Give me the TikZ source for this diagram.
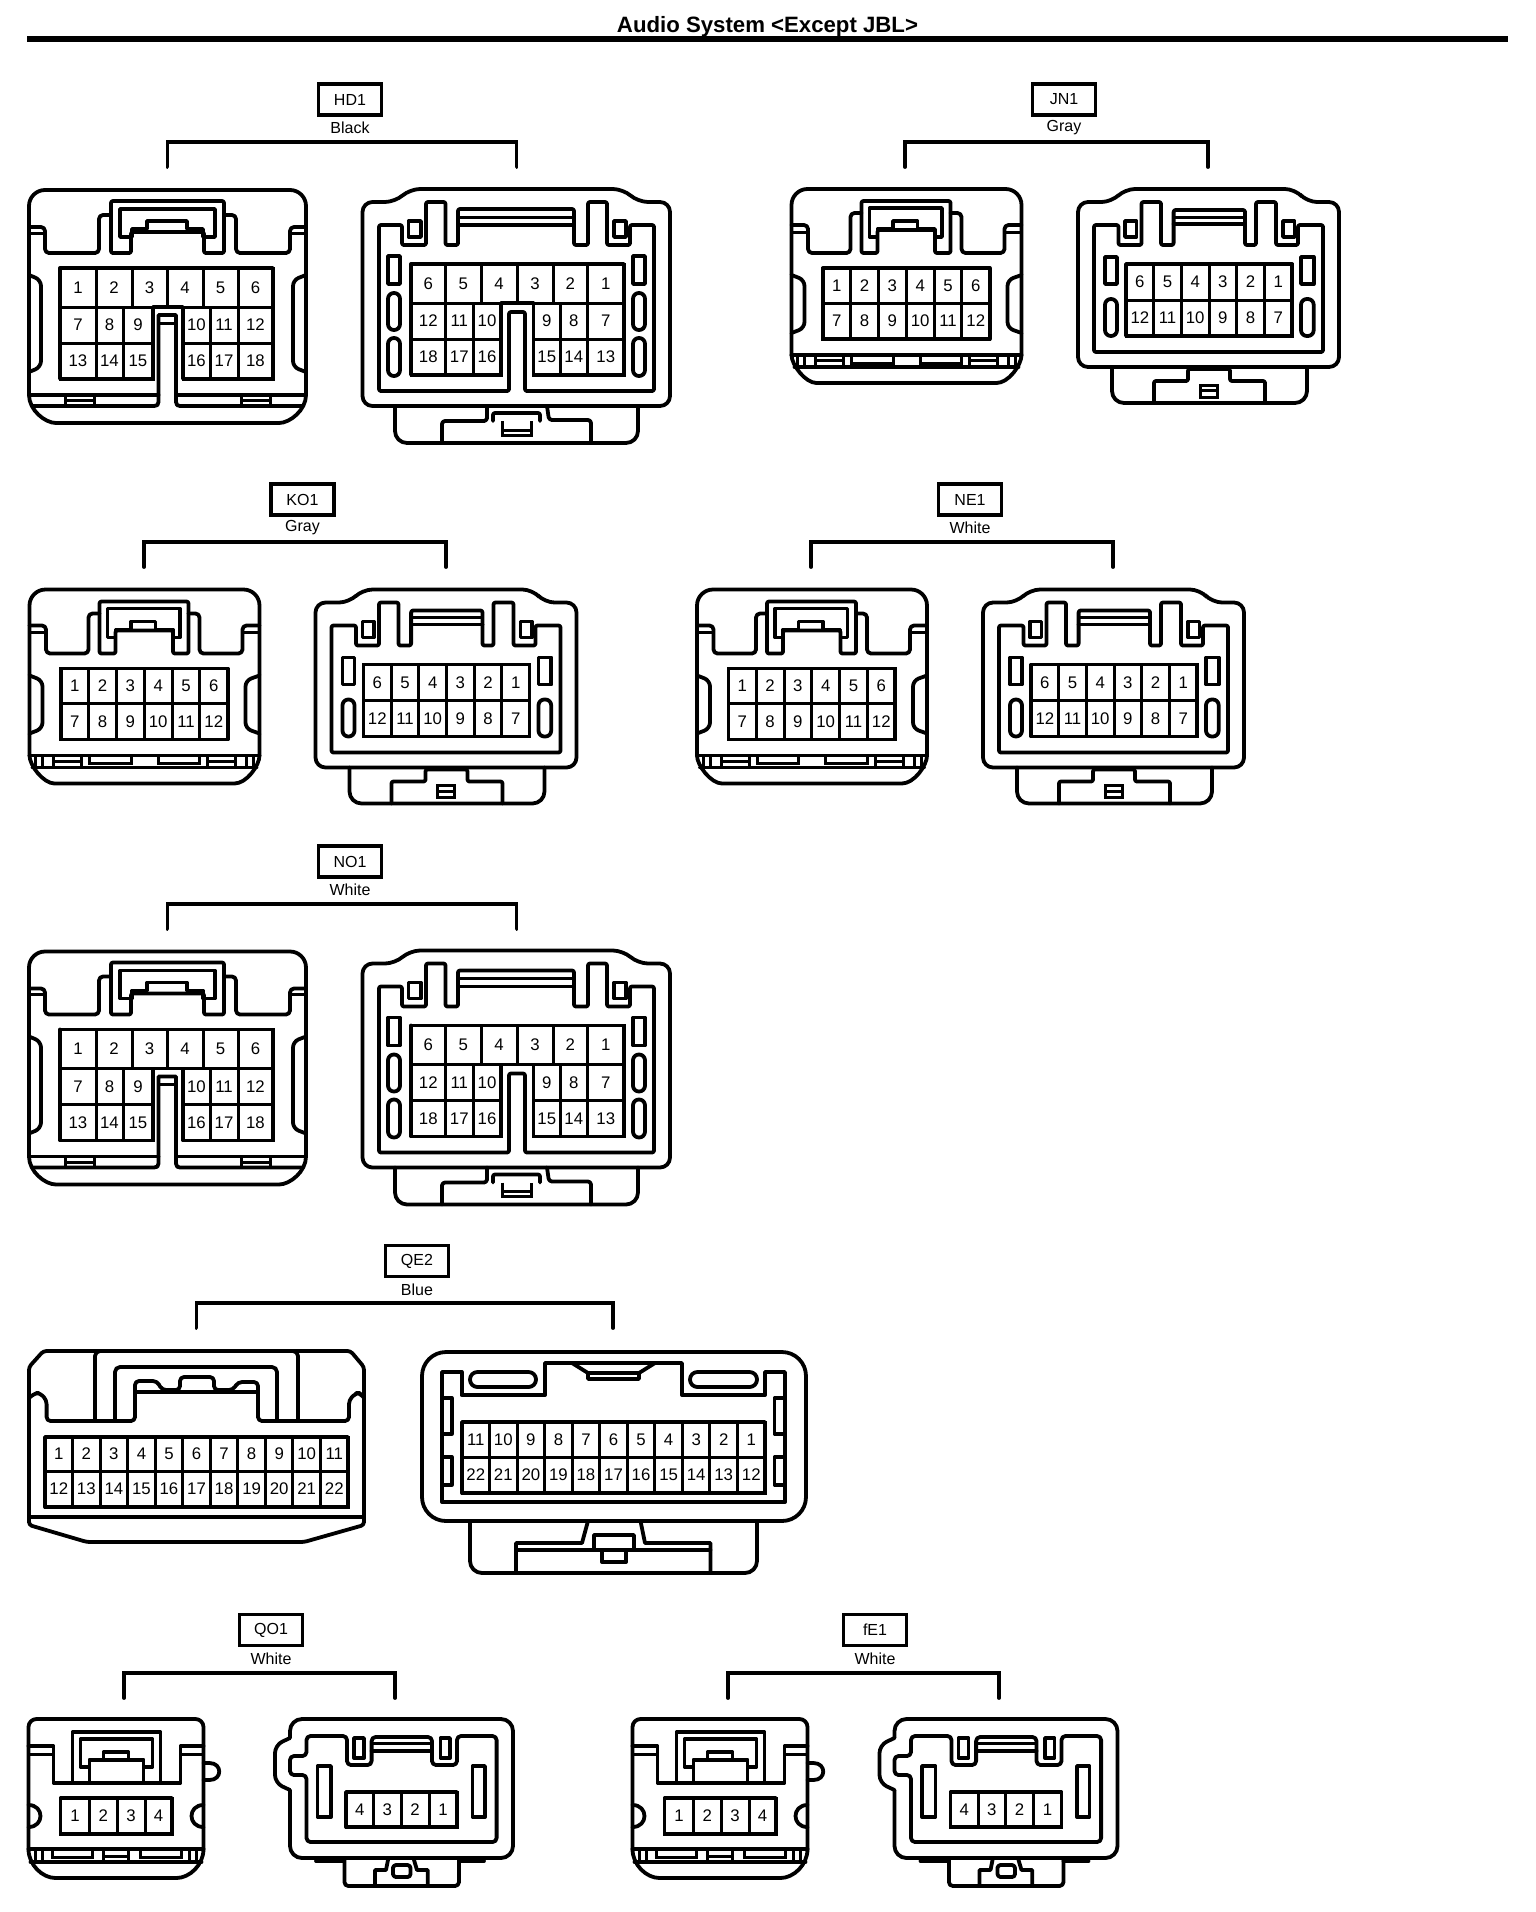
\documentclass[tikz,border=0pt]{standalone}
\usepackage{fontspec}
\setmainfont{Liberation Sans}
\tikzset{
 ln/.style={line width=1.9pt,line join=round,line cap=round},
 ln2/.style={line width=1.5pt,line join=miter},
 gridln/.style={line width=1.5pt},
 pinlbl/.style={inner sep=0pt,font=\fontsize{8.4}{10}\selectfont},
 tagbox/.style={draw,line width=1.9pt,minimum width=31.5pt,minimum height=15.5pt,inner sep=0pt,font=\fontsize{8}{10}\selectfont},
 collbl/.style={inner sep=0pt,font=\fontsize{8}{10}\selectfont},
 brk/.style={line width=1.9pt,line join=miter,line cap=round},
}
% one labelled cell row: y1,y2,{x1/x2/label,...}
\newcommand\cellsx[3]{\foreach \a/\b/\t in {#3}{\draw[gridln] (\a,#1) rectangle (\b,#2);
 \node[pinlbl] (\pfx-\t) at ({(\a+\b)/2},{(#1+#2)/2}) {\t};}}
% even row: y1,y2,x0,dx,{labels}
\newcommand\evenrow[5]{\foreach \t [count=\i] in {#5}{\pgfmathsetmacro\a{#3+(\i-1)*#4}\pgfmathsetmacro\b{\a+#4}
 \draw[gridln] (\a,#1) rectangle (\b,#2);
 \node[pinlbl] (\pfx-\t) at ({(\a+\b)/2},{(#1+#2)/2}) {\t};}}
% label group: id,text,colour,xc,ybox,xl,xr,ytop
\newcommand\taggrp[8]{
 \node[tagbox] (#1) at (#4,#5) {#2};
 \node[collbl] (#1c) at (#4,#5+28.5) {#3};
 \coordinate (#1l) at (#6,#8+25);
 \coordinate (#1r) at (#7,#8+25);
 \draw[brk] (#1l) -- ++(0,-25) -| (#1r);
}
% 18-pin plug
\newcommand\plugA[3]{\begin{scope}[shift={(#2,#3)}]\def\pfx{#1}
 \draw[ln,rounded corners=8pt] (29,395) -- (29,190) -- (306,190) -- (306,395);
 \draw[ln] (29,395) .. controls (29,410) and (45,423) .. (56,423) -- (279,423) .. controls (290,423) and (306,410) .. (306,395);
 \draw[ln,rounded corners=2pt] (29,227) -- (45,227) -- (45,253) -- (99,253) -- (99,215) -- (111,215);
 \draw[ln,rounded corners=2pt] (306,227) -- (290,227) -- (290,253) -- (236,253) -- (236,215) -- (224,215);
 \draw[ln2] (29,233) -- (45,233) (290,233) -- (306,233);
 \draw[ln,rounded corners=1pt] (131,232) -- (131,253) -- (111,253) -- (111,201) -- (224,201) -- (224,253) -- (204,253) -- (204,232) -- cycle;
 \draw[ln] (120,237) -- (120,209) -- (215,209) -- (215,237) -- (203,237) -- (203,229) -- (187,229) -- (187,221) -- (147,221) -- (147,229) -- (132,229) -- (132,237) -- cycle;
 \draw[ln,rounded corners=3pt] (29,275) -- (41,280) -- (41,367) -- (29,372);
 \draw[ln,rounded corners=3pt] (306,275) -- (293,280) -- (293,367) -- (306,372);
 \draw[ln] (29,395) -- (158.5,395) (176,395) -- (306,395);
 \draw[ln] (33,406) -- (154,406) .. controls (157,406) and (158.5,405) .. (158.5,402) -- (158.5,315) -- (176,315) -- (176,402) .. controls (176,405) and (177.5,406) .. (180,406) -- (302,406);
 \draw[ln2] (158.5,323) -- (176,323);
 \draw[ln2] (65,395) -- (65,406) (94,395) -- (94,406) (65,400.5) -- (94,400.5);
 \draw[ln2] (241,395) -- (241,406) (270,395) -- (270,406) (241,400.5) -- (270,400.5);
 \cellsx{268}{307}{60/96/1,96/132/2,132/167/3,167/203/4,203/238/5,238/273/6}
 \cellsx{307}{343}{60/96/7,96/123/8,123/153/9,183/210/10,210/238/11,238/273/12}
 \cellsx{343}{379}{60/96/13,96/123/14,123/153/15,183/210/16,210/238/17,238/273/18}
 \draw[ln] (60,268) -| (273,379) -| (183,307) -| (153,379) -| (60,268);
\end{scope}}
% 18-pin socket
\newcommand\plugB[3]{\begin{scope}[shift={(#2,#3)}]\def\pfx{#1}
 \draw[ln,rounded corners=5pt] (410,189) -- (623,189) -- (638,202) -- (670,202) -- (670,406) -- (362.5,406) -- (362.5,202) -- (395,202) -- cycle;
 \draw[ln,rounded corners=6pt] (395,406) -- (395,443) -- (638,443) -- (638,406);
 \draw[ln,rounded corners=1.5pt] (442,443) -- (442,421) -- (487,421) -- (487,406);
 \draw[ln,rounded corners=1.5pt] (591,443) -- (591,420) -- (549,420) -- (547,406);
 \draw[ln,rounded corners=1pt] (493,421) -- (493,413) -- (540,413) -- (540,421);
 \draw[ln2] (502,421) -- (502,435) -- (531,435) -- (531,421) (502,430) -- (531,430);
 \draw[ln,rounded corners=1pt] (379,225) -- (402,225) -- (402,245) -- (426,245) -- (426,202) -- (445.5,202) -- (445.5,245) -- (458,245) -- (458,209) -- (574,209) -- (574,245) -- (588,245) -- (588,202) -- (607,202) -- (607,245) -- (630,245) -- (630,225) -- (654,225) -- (654,391) -- (525,391) -- (525,312) -- (509,312) -- (509,391) -- (379,391) -- cycle;
 \draw[ln2] (458,217) -- (574,217);
 \draw[ln] (458,225) -- (574,225);
 \draw[ln] (408.5,221) rectangle (421,237) (614,221) rectangle (626,237);
 \draw[ln] (388,256) rectangle (400,284) (633,256) rectangle (645,284);
 \draw[ln,rounded corners=2.9pt] (388,293) rectangle (400,330) (388,338) rectangle (400,376) (633,293) rectangle (645,330) (633,338) rectangle (645,376);
 \cellsx{264}{303}{411/445.5/6,445.5/481/5,481/517/4,517/553/3,553/587.5/2,587.5/624/1}
 \cellsx{303}{339}{411/445.5/12,445.5/473/11,473/501/10,533.5/560/9,560/587.5/8,587.5/624/7}
 \cellsx{339}{375}{411/445.5/18,445.5/473/17,473/501/16,533.5/560/15,560/587.5/14,587.5/624/13}
 \draw[ln] (411,264) -| (624,375) -| (533.5,303) -| (501,375) -| (411,264);
\end{scope}}
% 12-pin plug
\newcommand\plugC[3]{\begin{scope}[shift={(#2,#3)}]\def\pfx{#1}
 \draw[ln,rounded corners=8pt] (791,355) -- (791,189) -- (1021,189) -- (1021,355);
 \draw[ln] (791,355) .. controls (791,365) and (805,383) .. (816,383) -- (996,383) .. controls (1008,383) and (1021,365) .. (1021,355);
 \draw[ln,rounded corners=2pt] (791,225) -- (807.5,225) -- (807.5,253) -- (850,253) -- (850,213) -- (861,213);
 \draw[ln,rounded corners=2pt] (1021,225) -- (1004,225) -- (1004,253) -- (961,253) -- (961,213) -- (950,213);
 \draw[ln2] (791,232) -- (807.5,232) (1004,232) -- (1021,232);
 \draw[ln,rounded corners=1pt] (877,230) -- (877,253) -- (861,253) -- (861,201) -- (950,201) -- (950,253) -- (934.5,253) -- (934.5,230) -- cycle;
 \draw[ln] (869,237) -- (869,208) -- (941.5,208) -- (941.5,237) -- (934.5,237) -- (934.5,229) -- (917,229) -- (917,221) -- (892.5,221) -- (892.5,229) -- (877,229) -- (877,237) -- cycle;
 \draw[ln,rounded corners=3pt] (791,275) -- (804,280) -- (804,328) -- (791,333);
 \draw[ln,rounded corners=3pt] (1021,275) -- (1007,280) -- (1007,328) -- (1021,333);
 \draw[ln] (791,355) -- (1021,355) (794,367) -- (1018,367);
 \draw[ln2] (797,355) -- (797,367) (804,355) -- (804,367) (815,355) -- (815,367) (843,355) -- (843,367) (815,360.5) -- (843,360.5);
 \draw[ln2] (1015,355) -- (1015,367) (1008,355) -- (1008,367) (997,355) -- (997,367) (969,355) -- (969,367) (969,360.5) -- (997,360.5);
 \draw[ln2] (851,355) -- (851,363) -- (892.5,363) -- (892.5,355) (919.5,355) -- (919.5,363) -- (961,363) -- (961,355);
 \evenrow{268}{303}{822.4}{27.8}{1,2,3,4,5,6}
 \evenrow{303}{339}{822.4}{27.8}{7,8,9,10,11,12}
 \draw[ln] (822.4,268) rectangle (989.2,339);
\end{scope}}
% 12-pin socket
\newcommand\plugD[3]{\begin{scope}[shift={(#2,#3)}]\def\pfx{#1}
 \draw[ln,rounded corners=5pt] (1124,189) -- (1294,189) -- (1306,202) -- (1338,202) -- (1338,367) -- (1077,367) -- (1077,202) -- (1110.6,202) -- cycle;
 \draw[ln,rounded corners=6pt] (1111,367) -- (1111,403) -- (1306,403) -- (1306,367);
 \draw[ln,rounded corners=1pt] (1153,403) -- (1153,381) -- (1187,381) -- (1187,369) -- (1229,369) -- (1229,381) -- (1264,381) -- (1264,403);
 \draw[ln2] (1199,385) -- (1199,397) -- (1216,397) -- (1216,385) -- cycle (1199,390.5) -- (1216,390.5);
 \draw[ln,rounded corners=1pt] (1093,225) -- (1117.5,225) -- (1117.5,245) -- (1140.5,245) -- (1140.5,202) -- (1160,202) -- (1160,245) -- (1172.6,245) -- (1172.6,210) -- (1244,210) -- (1244,245) -- (1255,245) -- (1255,202) -- (1275,202) -- (1275,245) -- (1297,245) -- (1297,225) -- (1322,225) -- (1322,352) -- (1093,352) -- cycle;
 \draw[ln2] (1172.6,217) -- (1244,217);
 \draw[ln] (1172.6,224) -- (1244,224);
 \draw[ln] (1124,221) rectangle (1135.5,237) (1282,221) rectangle (1293.5,237);
 \draw[ln] (1104,257) rectangle (1116,284) (1300,257) rectangle (1312.7,284);
 \draw[ln,rounded corners=2.9pt] (1104,299) rectangle (1116,336) (1300,299) rectangle (1312.7,336);
 \evenrow{264}{300}{1125}{27.67}{6,5,4,3,2,1}
 \evenrow{300}{336}{1125}{27.67}{12,11,10,9,8,7}
 \draw[ln] (1125,264) rectangle (1291,336);
\end{scope}}
% 22-pin plug
\newcommand\plugE[3]{\begin{scope}[shift={(#2,#3)}]\def\pfx{#1}
 \draw[ln,rounded corners=1.5pt] (43.4,1351) -- (350.5,1351) -- (364,1367) -- (364,1525) -- (304,1542) -- (87,1542) -- (29,1525) -- (29,1367) -- cycle;
 \draw[ln] (29,1517) -- (364,1517);
 \draw[ln,rounded corners=2pt] (29,1398) -- (35,1393) -- (40,1393) -- (46.6,1400) -- (46.6,1421) -- (135,1421) -- (135,1381) -- (157,1381) -- (162,1390) -- (180,1390) -- (180,1377) -- (214,1377) -- (214,1390) -- (233,1390) -- (238,1382) -- (258,1382) -- (258,1421) -- (349,1421) -- (349,1400) -- (356,1393) -- (360,1393) -- (364,1398);
 \draw[ln] (135,1392) -- (258,1392);
 \draw[ln,rounded corners=2.5pt] (115,1421) -- (115,1367) -- (277,1367) -- (277,1421);
 \draw[ln,rounded corners=2.5pt] (95,1421) -- (95,1351) -- (298,1351) -- (298,1421);
 \evenrow{1437}{1471}{45}{27.55}{1,2,3,4,5,6,7,8,9,10,11}
 \evenrow{1471}{1507}{45}{27.55}{12,13,14,15,16,17,18,19,20,21,22}
 \draw[ln] (45,1437) rectangle (348,1507);
\end{scope}}
% 22-pin socket
\newcommand\plugF[3]{\begin{scope}[shift={(#2,#3)}]\def\pfx{#1}
 \draw[ln,rounded corners=12pt] (422,1352) rectangle (806,1521);
 \draw[ln,rounded corners=6pt] (470,1521) -- (470,1573) -- (757,1573) -- (757,1521);
 \draw[ln] (442,1372) -- (461.6,1372) -- (461.6,1395) -- (545,1395) -- (545,1363) -- (682,1363) -- (682,1395) -- (765,1395) -- (765,1372) -- (785,1372) -- (785,1502) -- (442,1502) -- cycle;
 \draw[ln,rounded corners=3.7pt] (470,1372) rectangle (536,1387) (690,1372) rectangle (757,1387);
 \draw[ln] (572,1363) -- (588,1373) -- (639,1373) -- (655,1363) (588,1373) -- (588,1379) -- (639,1379) -- (639,1373);
 \draw[ln] (442,1398) rectangle (451.6,1434) (442,1457) rectangle (451.6,1485) (774.5,1398) rectangle (785,1434) (774.5,1457) rectangle (785,1485);
 \evenrow{1422}{1457}{462}{27.55}{11,10,9,8,7,6,5,4,3,2,1}
 \evenrow{1457}{1493}{462}{27.55}{22,21,20,19,18,17,16,15,14,13,12}
 \draw[ln] (462,1422) rectangle (765,1493);
 \draw[ln] (588,1521) -- (582,1543) -- (516,1543) -- (516,1573) (640.5,1521) -- (645,1543) -- (710.4,1543) -- (710.4,1573);
 \draw[ln] (516,1550) -- (710.4,1550);
 \draw[ln] (594,1550) -- (594,1535) -- (634,1535) -- (634,1550) (602,1550) -- (602,1562) -- (626,1562) -- (626,1550);
\end{scope}}
% 4-pin plug
\newcommand\plugG[3]{\begin{scope}[shift={(#2,#3)}]\def\pfx{#1}
 \draw[ln,rounded corners=4pt] (28,1849) -- (28,1719) -- (203,1719) -- (203,1849);
 \draw[ln] (28,1849) .. controls (28,1865) and (42,1878) .. (55,1878) -- (176,1878) .. controls (189,1878) and (203,1865) .. (203,1849);
 \draw[ln] (28,1746) -- (53,1746) -- (53,1783) -- (180,1783) -- (180,1746) -- (203,1746);
 \draw[ln2] (28,1754) -- (53,1754) (180,1754) -- (203,1754);
 \draw[ln] (72,1783) -- (72,1732) -- (160,1732) -- (160,1783) (89,1783) -- (89,1760) -- (143,1760) -- (143,1783);
 \draw[ln] (80,1767) -- (80,1739) -- (152,1739) -- (152,1767) -- (143,1767) -- (143,1760) -- (128,1760) -- (128,1752) -- (103,1752) -- (103,1760) -- (89,1760) -- (89,1767) -- cycle;
 \draw[ln] (203,1763) -- (209,1763) .. controls (222,1763) and (222,1780) .. (209,1780) -- (203,1780);
 \draw[ln] (28,1805) .. controls (44,1805) and (44,1827) .. (28,1827) (203,1805) .. controls (187,1805) and (187,1827) .. (203,1827);
 \draw[ln] (28,1849) -- (203,1849) (30,1862) -- (201,1862);
 \draw[ln2] (35,1849) -- (35,1862) (42,1849) -- (42,1862) (103,1849) -- (103,1862) (128,1849) -- (128,1862) (103,1856) -- (128,1856) (189,1849) -- (189,1862) (196,1849) -- (196,1862);
 \draw[ln2] (52,1849) -- (52,1857) -- (92,1857) -- (92,1849) (139.5,1849) -- (139.5,1857) -- (181,1857) -- (181,1849);
 \cellsx{1798}{1834}{60/89/1,89/116.5/2,116.5/144.5/3,144.5/171.5/4}
 \draw[ln] (60,1798) rectangle (171.5,1834);
\end{scope}}
% 4-pin socket
\newcommand\plugH[3]{\begin{scope}[shift={(#2,#3)}]\def\pfx{#1}
 \draw[ln,rounded corners=6pt] (291,1738) -- (291,1719) -- (514,1719) -- (514,1858) -- (291,1858) -- (291,1790);
 \draw[ln,rounded corners=4pt] (291,1738) -- (276,1745) -- (276,1783) -- (291,1790);
 \draw[ln,rounded corners=2pt] (307.5,1756) -- (307.5,1736) -- (348,1736) -- (348,1765) -- (372.6,1765) -- (372.6,1737) -- (433,1737) -- (433,1765) -- (458,1765) -- (458,1736) -- (497.6,1736) -- (497.6,1842) -- (307.5,1842) -- (307.5,1775) -- (291,1775) -- (291,1756) -- cycle;
 \draw[ln2] (372.6,1743.5) -- (433,1743.5);
 \draw[ln] (372.6,1751) -- (433,1751);
 \draw[ln] (355,1738) rectangle (365,1758) (441.5,1738) rectangle (451,1758);
 \draw[ln] (318.5,1766) rectangle (332,1817) (473.5,1766) rectangle (486,1817);
 \cellsx{1792}{1827}{347/374.7/4,374.7/402/3,402/430/2,430/458/1}
 \draw[ln] (347,1792) rectangle (458,1827);
 \draw[ln,rounded corners=2pt] (345.4,1858) -- (345.4,1886) -- (460,1886) -- (460,1858);
 \draw[ln] (317,1861) -- (345,1861) (460,1861) -- (485,1861);
 \draw[ln] (389,1860) -- (387,1870) -- (376,1870) -- (376,1886) (415,1860) -- (418,1870) -- (428.7,1870) -- (428.7,1886);
 \draw[ln,rounded corners=1.5pt] (394,1870) -- (394,1865) -- (411.5,1865) -- (411.5,1877) -- (394,1877) -- cycle;
\end{scope}}
\begin{document}
\begin{tikzpicture}[x=0.5pt,y=-0.5pt]
\useasboundingbox (0,0) rectangle (1536,1912);
\node[inner sep=0pt,font=\fontsize{11.1}{13}\selectfont\bfseries] (title) at (767.5,27) {Audio System <Except JBL>};
\coordinate (rulel) at (27,39);
\coordinate (ruler) at (1508,39);
\draw[line width=2.6pt] (rulel) -- (ruler);

\taggrp{hd1}{HD1}{Black}{350}{99.5}{167.4}{516.5}{142}
\plugA{hda}{0}{0}\plugB{hdb}{0}{0}

\taggrp{jn1}{JN1}{Gray}{1064}{99.5}{905}{1208}{142}
\plugC{jna}{0.5}{0}\plugD{jnb}{1}{0}

\taggrp{ko1}{KO1}{Gray}{302.5}{499.5}{144}{446}{542}
\plugC{koa}{-761.5}{400.5}\plugD{kob}{-761.5}{400.5}

\taggrp{ne1}{NE1}{White}{970}{499.5}{811}{1113}{542}
\plugC{nea}{-94}{400.5}\plugD{neb}{-94}{400.5}

\taggrp{no1}{NO1}{White}{350}{861.5}{167.4}{516.5}{904}
\plugA{noa}{0}{761.5}\plugB{nob}{0}{761.5}

\taggrp{qe2}{QE2}{Blue}{417}{1261}{196.4}{613}{1303}
\plugE{qea}{0}{0}\plugF{qeb}{0}{0}

\taggrp{qo1}{QO1}{White}{271}{1630}{124}{395}{1673}
\plugG{qoa}{0.5}{0}\plugH{qob}{-1}{0}

\taggrp{fe1}{fE1}{White}{875}{1630}{728}{999}{1673}
\plugG{fea}{604.5}{0}\plugH{feb}{603.5}{0}
\end{tikzpicture}
\end{document}
